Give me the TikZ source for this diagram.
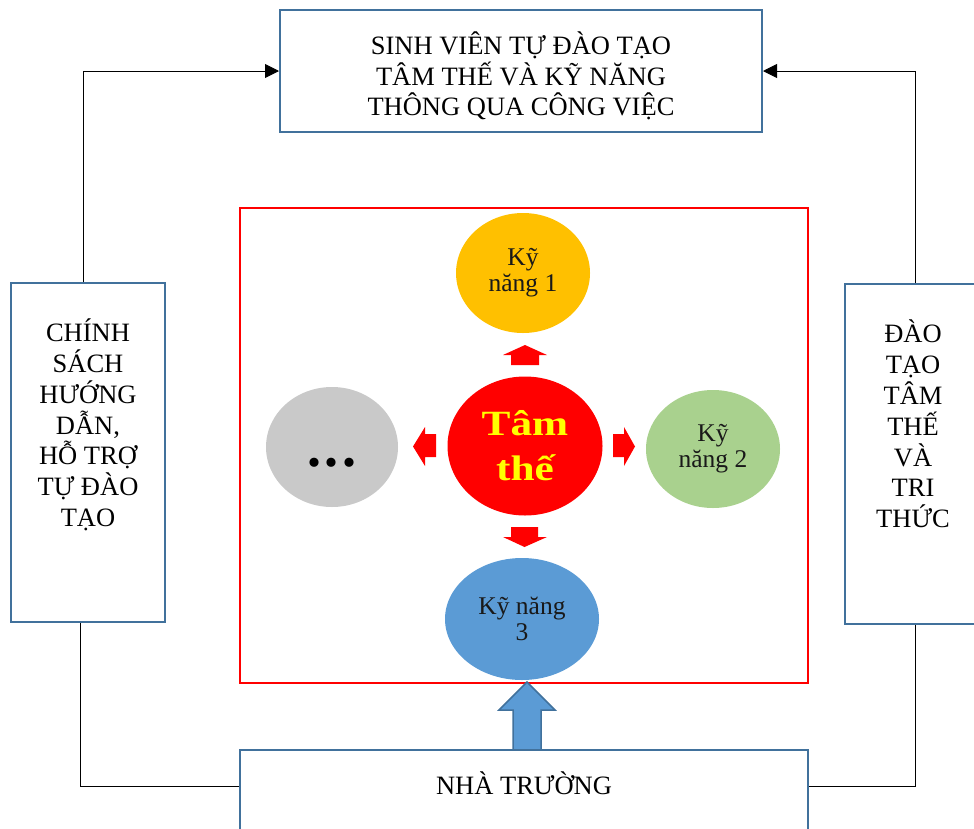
\documentclass[tikz,border=0pt]{standalone}
\usepackage{fontspec}
\setmainfont{Liberation Serif}
\usepackage{graphicx}
\usetikzlibrary{shapes.geometric,arrows.meta}
\definecolor{boxblue}{HTML}{41719C}
\definecolor{knone}{HTML}{FFC000}
\definecolor{kntwo}{HTML}{A9D18E}
\definecolor{knthree}{HTML}{5B9BD5}
\definecolor{dotsgray}{HTML}{C9C9C9}
\definecolor{tamred}{HTML}{FF0000}
\definecolor{tamyellow}{HTML}{FFFF00}
\begin{document}
\begin{tikzpicture}[x=1pt,y=-1pt,
  bluebox/.style={draw=boxblue,line width=2pt,fill=white,rectangle,inner sep=0pt},
  bigtext/.style={font=\fontsize{26.5}{30.8}\selectfont,align=center,inner sep=0pt},
  skill/.style={ellipse,inner sep=0pt,font=\fontsize{25.5}{26}\selectfont,align=center,text=black!90},
  conn/.style={draw=black,line width=0.9pt},
  connarrow/.style={conn,-{Triangle[length=14pt,width=14pt]}},
  redarrow/.style={fill=tamred,draw=none},
]
\useasboundingbox (0,0) rectangle (974,828);
% boxes
\node[bluebox,minimum width=482pt,minimum height=122pt] (topbox) at (521,71) {};
\node[bluebox,minimum width=154pt,minimum height=339pt] (leftbox) at (88,452.5) {};
\node[bluebox,minimum width=136pt,minimum height=340pt] (rightbox) at (913,454) {};
\node[draw=tamred,line width=2pt,rectangle,inner sep=0pt,minimum width=568pt,minimum height=475pt] (redbox) at (524,445.5) {};
% texts in boxes
\node[bigtext] (toptext) at (521,76) {SINH VIÊN TỰ ĐÀO TẠO\\TÂM THẾ VÀ KỸ NĂNG\\THÔNG QUA CÔNG VIỆC};
\node[bigtext] (lefttext) at (88,425) {CHÍNH\\SÁCH\\HƯỚNG\\DẪN,\\HỖ TRỢ\\TỰ ĐÀO\\TẠO};
\node[bigtext] (righttext) at (913,424) {ĐÀO\\TẠO\\TÂM\\THẾ\\VÀ\\TRI\\THỨC};
% circles
\node[skill,fill=knone,minimum width=134pt,minimum height=120pt] (kn1) at (523,273) {Kỹ\\năng 1};
\node[skill,fill=kntwo,minimum width=134pt,minimum height=118pt] (kn2) at (713,449) {Kỹ\\năng 2};
\node[skill,fill=knthree,minimum width=154pt,minimum height=122pt] (kn3) at (522,619) {Kỹ năng\\3};
\node[skill,fill=dotsgray,minimum width=132pt,minimum height=120pt] (dots) at (332,447) {};
\node[anchor=base,inner sep=0pt,font=\fontsize{56}{56}\selectfont\bfseries] (dotstext) at (332,466) {.\kern4pt.\kern4pt.};
\node[ellipse,inner sep=0pt,fill=tamred,minimum width=155pt,minimum height=139pt,align=center,text=tamyellow,font=\fontsize{35.5}{45}\selectfont\bfseries] (tam) at (525,446) {\scalebox{1.22}[1]{Tâm}\\\scalebox{1.22}[1]{thế}};
% red block arrows
\fill[redarrow] (511,365) -- (511,355) -- (503,355) -- (525,345) -- (547,355) -- (539,355) -- (539,365) -- cycle;
\fill[redarrow] (511,527) -- (538,527) -- (538,537) -- (547,537) -- (524.5,547) -- (503,537) -- (511,537) -- cycle;
\fill[redarrow] (436,434) -- (425,434) -- (425,427) -- (413,446.5) -- (425,466) -- (425,457) -- (436,457) -- cycle;
\fill[redarrow] (613,434) -- (624,434) -- (624,427) -- (635,446.5) -- (624,466) -- (624,457) -- (613,457) -- cycle;
% blue block arrow
\draw[fill=knthree,draw=boxblue,line width=1.5pt,line join=miter] (513,752) -- (513,710) -- (499,710) -- (527,682) -- (555,710) -- (541,710) -- (541,752) -- cycle;
% bottom box
\node[bluebox,minimum width=568pt,minimum height=90pt] (nhatruong) at (524,795) {};
\node[anchor=base,inner sep=0pt,font=\fontsize{26.5}{30.8}\selectfont] (nttext) at (524,794) {NHÀ TRƯỜNG};
% connectors
\draw[connarrow] ([xshift=-5pt]leftbox.north) |- (topbox.west);
\draw[connarrow] ([xshift=2pt]rightbox.north) |- (topbox.east);
\draw[conn] ([xshift=-8pt]leftbox.south) |- ([yshift=9pt]nhatruong.west);
\draw[conn] ([xshift=2pt]rightbox.south) |- ([yshift=9pt]nhatruong.east);
\end{tikzpicture}
\end{document}
